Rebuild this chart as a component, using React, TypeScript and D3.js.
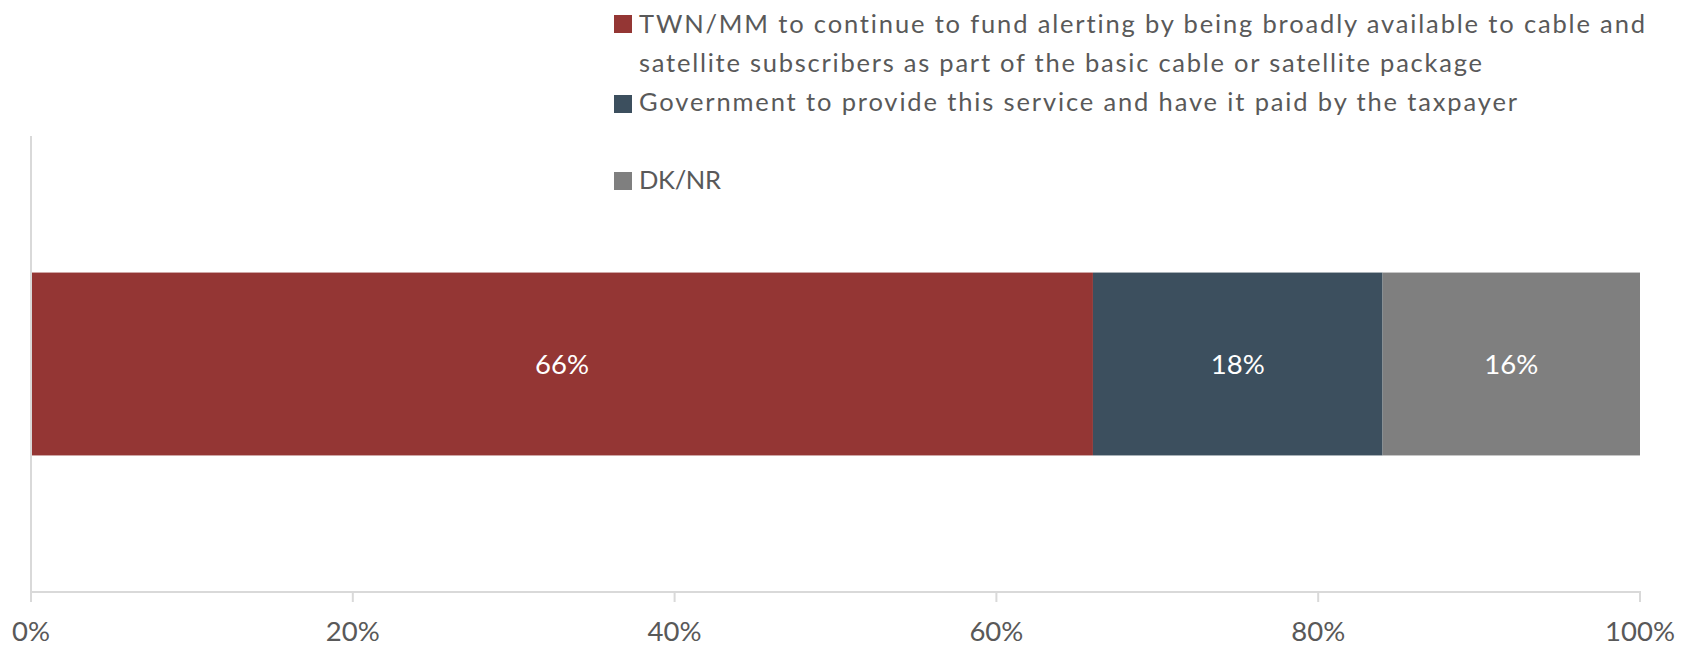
import React from "react";
import * as d3 from "d3";

const categories = ["All"];
const seriesNames = [
  "TWN/MM to continue to fund alerting by being broadly available to cable and satellite subscribers as part of the basic cable or satellite package",
  "Government to provide this service and have it paid by the taxpayer",
  "DK/NR",
];
const legendLines = [
  ["TWN/MM to continue to fund alerting by being broadly available to cable and", "satellite subscribers as part of the basic cable or satellite package"],
  ["Government to provide this service and have it paid by the taxpayer"],
  ["DK/NR"],
];
const legendLineWidths = [[1006, 843], [878], [82]];
const seriesValues = [66, 18, 16];
const seriesColors = ["#943634", "#3C4F5E", "#7F7F7F"];
const xTicks = [0, 20, 40, 60, 80, 100];

const W = 1688;
const H = 645;
const FONT = "Lato, 'Open Sans', sans-serif";
const noLiga = { fontVariantLigatures: "none", fontFeatureSettings: "'liga' 0, 'clig' 0, 'dlig' 0" } as React.CSSProperties;

export default function App() {
  const x = d3.scaleLinear().domain([0, 100]).range([31, 1640]);
  const y = d3.scaleBand<string>().domain(categories).range([136, 592]).padding(0.4275);

  const stacked = seriesValues.map((v, i) => {
    const start = d3.sum(seriesValues.slice(0, i));
    return { v, start, end: start + v, color: seriesColors[i], name: seriesNames[i] };
  });

  const legendY = [15, 95, 172];
  const baselineY = [[33, 71.5], [111], [188.5]];

  return (
    <svg
      width={W}
      height={H}
      style={{ position: "absolute", left: 0, top: 0, background: "#fff", ...noLiga }}
      fontFamily={FONT}
    >
      {/* Legend */}
      {legendLines.map((lines, i) => (
        <g key={i}>
          <rect x={614} y={legendY[i]} width={18} height={18} fill={seriesColors[i]} />
          {lines.map((ln, j) => (
            <text
              key={j}
              x={639}
              y={baselineY[i][j]}
              fontSize={25.5}
              fill="#595959"
              style={noLiga}
              textLength={legendLineWidths[i][j]}
              lengthAdjust="spacing"
            >
              {ln}
            </text>
          ))}
        </g>
      ))}

      {/* Bars */}
      {categories.map((c) => (
        <g key={c}>
          {stacked.map((s, i) => (
            <g key={i}>
              <rect
                x={x(s.start)}
                y={y(c)!}
                width={x(s.end) - x(s.start)}
                height={y.bandwidth()}
                fill={s.color}
              />
              <text
                x={(x(s.start) + x(s.end)) / 2}
                y={y(c)! + y.bandwidth() / 2}
                dy="0.35em"
                textAnchor="middle"
                fontSize={27.5}
                fill="#ffffff"
              >
                {s.v}%
              </text>
            </g>
          ))}
        </g>
      ))}

      {/* Axes */}
      <line x1={x(0)} x2={x(0)} y1={136} y2={592} stroke="#D9D9D9" strokeWidth={2} />
      <line x1={x(0) - 1} x2={x(100) + 1} y1={592} y2={592} stroke="#D9D9D9" strokeWidth={2} />
      {xTicks.map((t) => (
        <g key={t}>
          <line x1={x(t)} x2={x(t)} y1={592} y2={602} stroke="#D9D9D9" strokeWidth={2} />
          <text x={x(t)} y={641} textAnchor="middle" fontSize={27.5} fill="#595959">
            {t}%
          </text>
        </g>
      ))}
    </svg>
  );
}
